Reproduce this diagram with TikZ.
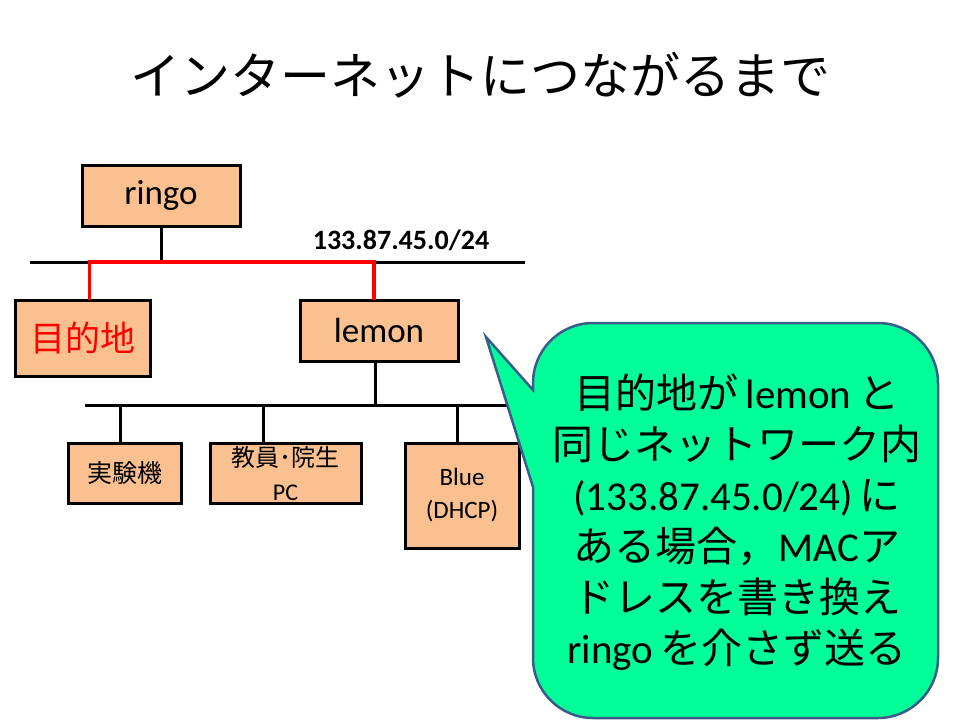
\documentclass[tikz,border=0pt]{standalone}
\usepackage{fontspec}
\setmainfont{Carlito}
\newfontfamily\jp{Noto Sans CJK JP}
\definecolor{boxfill}{RGB}{250,192,144}
\definecolor{callfill}{RGB}{0,255,153}
\definecolor{callline}{RGB}{56,93,138}
\begin{document}
\begin{tikzpicture}[x=1pt,y=-1pt,
  hostbox/.style={draw=black, line width=3pt, fill=boxfill, inner sep=0pt, outer sep=0pt, anchor=north west, align=center},
  wire/.style={draw=black, line width=3pt},
  redwire/.style={draw=red, line width=3.5pt},
  callout/.style={draw=callline, line width=2.5pt, fill=callfill}]
\useasboundingbox (0,0) rectangle (960,720);
\fill[white] (0,0) rectangle (960,720);
% title
\node[font=\fontsize{50}{60}\selectfont\jp] (title) at (480,75) {インターネットにつながるまで};
% bus coordinates
\coordinate (b1l) at (30,262);
\coordinate (b1r) at (525,262);
\coordinate (b2l) at (85,405);
\coordinate (b2r) at (522,405);
\coordinate (s1) at (120,405);
\coordinate (s2) at (263,405);
\coordinate (s3) at (457,405);
% boxes
\node[hostbox, minimum width=158pt, minimum height=61pt, font=\fontsize{35}{40}\selectfont] (ringo) at (82,165) {ringo};
\node[hostbox, minimum width=135pt, minimum height=76pt, font=\fontsize{35}{40}\selectfont\jp, text=red] (dest) at (15.5,300) {目的地};
\node[hostbox, minimum width=158pt, minimum height=61pt, font=\fontsize{35}{40}\selectfont] (lemon) at (300,300) {lemon};
\node[hostbox, minimum width=113pt, minimum height=60pt, font=\fontsize{25}{30}\selectfont\jp] (exp) at (68,443) {実験機};
\node[hostbox, minimum width=151pt, minimum height=60pt, font=\fontsize{24}{34}\selectfont] (pc) at (210,443) {{\jp 教員･院生}\\PC};
\node[hostbox, minimum width=114pt, minimum height=105pt, font=\fontsize{25}{33}\selectfont] (blue) at (405,443) {Blue\\(DHCP)};
% label
\node[font=\bfseries\fontsize{28}{32}\selectfont] (net) at (401,240) {133.87.45.0/24};
% wires
\draw[wire] (b1l) -- (b1r);
\draw[wire] (ringo.south) -- (ringo.south |- b1l);
\draw[redwire] ([xshift=6.5pt]dest.north) -- ([xshift=6.5pt]dest.north |- b1l) -- ([xshift=-4.8pt]lemon.north |- b1l) -- ([xshift=-4.8pt]lemon.north);
\draw[wire] (b2l) -- (b2r);
\draw[wire] ([xshift=-4pt]lemon.south) -- ([xshift=-4pt]lemon.south |- b2l);
\draw[wire] (s1) -- (s1 |- exp.north);
\draw[wire] (s2) -- (s2 |- pc.north);
\draw[wire] (s3) -- (s3 |- blue.north);
% callout
\coordinate (tip) at (486,337);
\draw[callout] (533,487) -- (533,658) .. controls (533,691) and (560,718) .. (593,718) -- (878,718) .. controls (911,718) and (938,691) .. (938,658) -- (938,383) .. controls (938,350) and (911,323) .. (878,323) -- (593,323) .. controls (560,323) and (533,350) .. (533,383) -- (533,390) -- (tip) -- cycle;
\node[align=center, font=\fontsize{41}{51}\selectfont] (note) at (737,522) {%
{\jp 目的地が}\,lemon\,{\jp と}\\
{\jp 同じネットワーク内}\\
(133.87.45.0/24)\,{\jp に}\\
{\jp ある場合，}MAC{\jp ア}\\
{\jp ドレスを書き換え}\\
ringo\,{\jp を介さず送る}};
\end{tikzpicture}
\end{document}
